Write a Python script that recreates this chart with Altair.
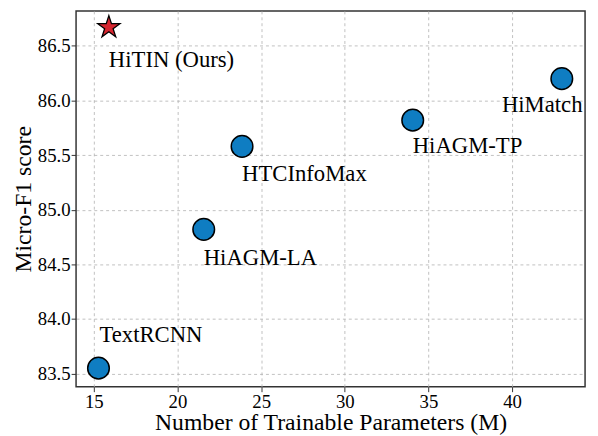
import altair as alt
import pandas as pd

models = ["TextRCNN", "HiAGM-LA", "HTCInfoMax", "HiAGM-TP", "HiMatch", "HiTIN (Ours)"]
params = [15.28, 21.57, 23.86, 34.06, 42.97, 15.9]
f1 = [83.55, 84.82, 85.58, 85.82, 86.20, 86.67]
kind = ["base", "base", "base", "base", "base", "ours"]

df = pd.DataFrame({"model": models, "params": params, "f1": f1, "kind": kind})

FONT = "Liberation Serif"
STAR = ("M0,-1 L0.2245,-0.309 L0.951,-0.309 L0.3633,0.118 L0.588,0.809 L0,0.382 "
        "L-0.588,0.809 L-0.3633,0.118 L-0.951,-0.309 L-0.2245,-0.309 Z")

xs = alt.Scale(domain=[13.94, 44.36], nice=False, zero=False)
ys = alt.Scale(domain=[83.38, 86.82], nice=False, zero=False)

base = alt.Chart(df).encode(
    x=alt.X("params:Q", scale=xs, title="Number of Trainable Parameters (M)",
            axis=alt.Axis(values=[15, 20, 25, 30, 35, 40], format="d")),
    y=alt.Y("f1:Q", scale=ys, title="Micro-F1 score",
            axis=alt.Axis(values=[83.5, 84.0, 84.5, 85.0, 85.5, 86.0, 86.5], format=".1f")),
)

circles = base.transform_filter(alt.datum.kind == "base").mark_point(
    shape="circle", filled=True, size=480, fill="#0f7dc2", stroke="black", strokeWidth=1.5, opacity=1
)

star = base.transform_filter(alt.datum.kind == "ours").mark_point(
    shape=STAR, filled=True, size=560, fill="#d62630", stroke="black", strokeWidth=1.3, opacity=1
)

offsets = {
    "TextRCNN": (1, -34, "left"),
    "HiAGM-LA": (0, 29, "left"),
    "HTCInfoMax": (0, 28, "left"),
    "HiAGM-TP": (0, 26, "left"),
    "HiMatch": (21, 27, "right"),
    "HiTIN (Ours)": (0, 33, "left"),
}

texts = []
for m, (dx, dy, al) in offsets.items():
    texts.append(
        base.transform_filter(alt.datum.model == m).mark_text(
            font=FONT, fontSize=23, dx=dx, dy=dy, align=al, baseline="middle", color="black"
        ).encode(text="model:N")
    )

chart = alt.layer(circles, star, *texts).properties(
    width=516, height=381,
    autosize=alt.AutoSizeParams(type="none"),
    padding={"left": 69, "top": 0, "right": 5, "bottom": 47},
).configure_view(
    stroke="#333333", strokeWidth=1.5
).configure_axis(
    labelFont=FONT, titleFont=FONT, labelFontSize=19, titleFontSize=24,
    titleFontWeight="normal", labelColor="black", titleColor="black",
    grid=True, gridDash=[3, 3], gridColor="#b0b0b0", gridWidth=0.8,
    domain=False, tickColor="#333333", tickSize=5, tickWidth=1,
    labelPadding=1,
).configure_axisX(titleY=36, titleBaseline="middle").configure_axisY(
    titleX=-53, titleBaseline="middle", titleFontSize=24
)

chart.save("out.html", embed_options={"renderer": "svg", "actions": False})
